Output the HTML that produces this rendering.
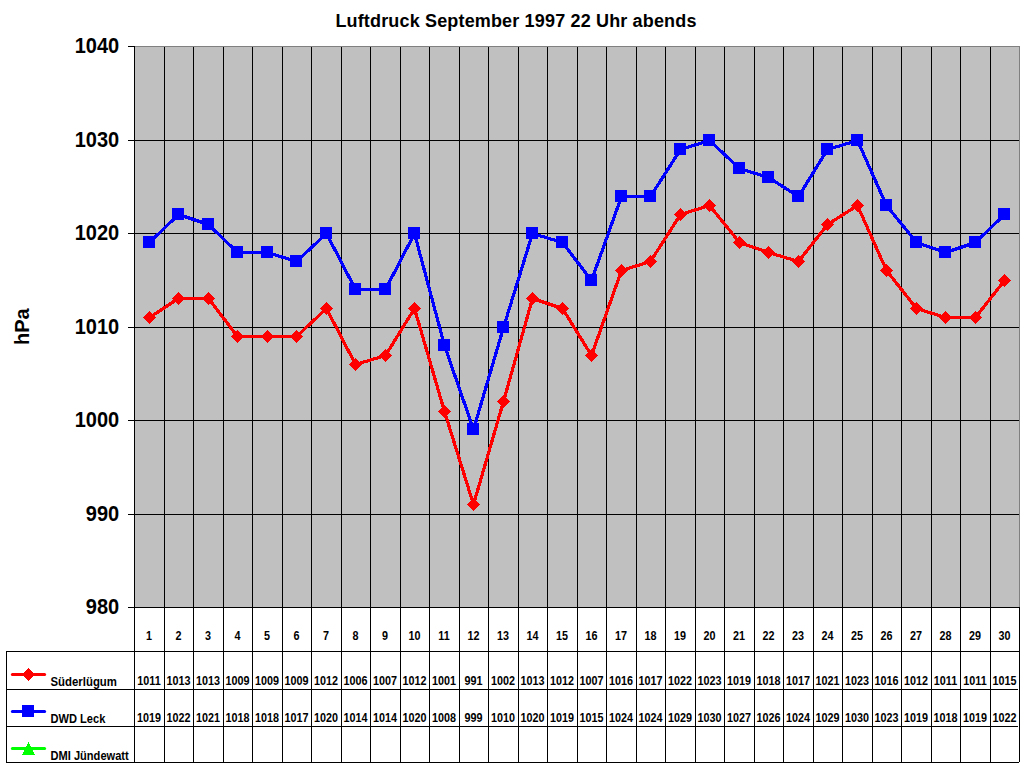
<!DOCTYPE html><html><head><meta charset="utf-8"><style>html,body{margin:0;padding:0;background:#fff;width:1024px;height:768px;overflow:hidden}svg{display:block}text{font-family:"Liberation Sans",sans-serif;font-weight:bold}</style></head><body>
<svg width="1024" height="768" viewBox="0 0 1024 768" shape-rendering="crispEdges">
<rect x="134" y="46" width="885" height="561" fill="#c0c0c0"/>
<line x1="134" y1="140.5" x2="1019" y2="140.5" stroke="#000" stroke-width="1"/>
<line x1="134" y1="233.5" x2="1019" y2="233.5" stroke="#000" stroke-width="1"/>
<line x1="134" y1="327.5" x2="1019" y2="327.5" stroke="#000" stroke-width="1"/>
<line x1="134" y1="420.5" x2="1019" y2="420.5" stroke="#000" stroke-width="1"/>
<line x1="134" y1="514.5" x2="1019" y2="514.5" stroke="#000" stroke-width="1"/>
<line x1="164.5" y1="46" x2="164.5" y2="763" stroke="#000" stroke-width="1"/>
<line x1="193.5" y1="46" x2="193.5" y2="763" stroke="#000" stroke-width="1"/>
<line x1="223.5" y1="46" x2="223.5" y2="763" stroke="#000" stroke-width="1"/>
<line x1="252.5" y1="46" x2="252.5" y2="763" stroke="#000" stroke-width="1"/>
<line x1="282.5" y1="46" x2="282.5" y2="763" stroke="#000" stroke-width="1"/>
<line x1="311.5" y1="46" x2="311.5" y2="763" stroke="#000" stroke-width="1"/>
<line x1="341.5" y1="46" x2="341.5" y2="763" stroke="#000" stroke-width="1"/>
<line x1="370.5" y1="46" x2="370.5" y2="763" stroke="#000" stroke-width="1"/>
<line x1="400.5" y1="46" x2="400.5" y2="763" stroke="#000" stroke-width="1"/>
<line x1="429.5" y1="46" x2="429.5" y2="763" stroke="#000" stroke-width="1"/>
<line x1="459.5" y1="46" x2="459.5" y2="763" stroke="#000" stroke-width="1"/>
<line x1="488.5" y1="46" x2="488.5" y2="763" stroke="#000" stroke-width="1"/>
<line x1="518.5" y1="46" x2="518.5" y2="763" stroke="#000" stroke-width="1"/>
<line x1="547.5" y1="46" x2="547.5" y2="763" stroke="#000" stroke-width="1"/>
<line x1="577.5" y1="46" x2="577.5" y2="763" stroke="#000" stroke-width="1"/>
<line x1="606.5" y1="46" x2="606.5" y2="763" stroke="#000" stroke-width="1"/>
<line x1="636.5" y1="46" x2="636.5" y2="763" stroke="#000" stroke-width="1"/>
<line x1="665.5" y1="46" x2="665.5" y2="763" stroke="#000" stroke-width="1"/>
<line x1="695.5" y1="46" x2="695.5" y2="763" stroke="#000" stroke-width="1"/>
<line x1="724.5" y1="46" x2="724.5" y2="763" stroke="#000" stroke-width="1"/>
<line x1="754.5" y1="46" x2="754.5" y2="763" stroke="#000" stroke-width="1"/>
<line x1="783.5" y1="46" x2="783.5" y2="763" stroke="#000" stroke-width="1"/>
<line x1="813.5" y1="46" x2="813.5" y2="763" stroke="#000" stroke-width="1"/>
<line x1="842.5" y1="46" x2="842.5" y2="763" stroke="#000" stroke-width="1"/>
<line x1="872.5" y1="46" x2="872.5" y2="763" stroke="#000" stroke-width="1"/>
<line x1="901.5" y1="46" x2="901.5" y2="763" stroke="#000" stroke-width="1"/>
<line x1="931.5" y1="46" x2="931.5" y2="763" stroke="#000" stroke-width="1"/>
<line x1="960.5" y1="46" x2="960.5" y2="763" stroke="#000" stroke-width="1"/>
<line x1="990.5" y1="46" x2="990.5" y2="763" stroke="#000" stroke-width="1"/>
<line x1="134" y1="46.5" x2="1020" y2="46.5" stroke="#808080"/>
<line x1="1019.5" y1="46" x2="1019.5" y2="607" stroke="#808080"/>
<line x1="134.5" y1="46" x2="134.5" y2="763" stroke="#000"/>
<line x1="128" y1="46.5" x2="134" y2="46.5" stroke="#000"/>
<text transform="translate(119.2,53) scale(0.91,1)" font-size="22" text-anchor="end">1040</text>
<line x1="128" y1="140.5" x2="134" y2="140.5" stroke="#000"/>
<text transform="translate(119.2,147) scale(0.91,1)" font-size="22" text-anchor="end">1030</text>
<line x1="128" y1="233.5" x2="134" y2="233.5" stroke="#000"/>
<text transform="translate(119.2,240) scale(0.91,1)" font-size="22" text-anchor="end">1020</text>
<line x1="128" y1="327.5" x2="134" y2="327.5" stroke="#000"/>
<text transform="translate(119.2,334) scale(0.91,1)" font-size="22" text-anchor="end">1010</text>
<line x1="128" y1="420.5" x2="134" y2="420.5" stroke="#000"/>
<text transform="translate(119.2,427) scale(0.91,1)" font-size="22" text-anchor="end">1000</text>
<line x1="128" y1="514.5" x2="134" y2="514.5" stroke="#000"/>
<text transform="translate(119.2,521) scale(0.91,1)" font-size="22" text-anchor="end">990</text>
<line x1="128" y1="607.5" x2="134" y2="607.5" stroke="#000"/>
<text transform="translate(119.2,614) scale(0.91,1)" font-size="22" text-anchor="end">980</text>
<line x1="134" y1="607.5" x2="1020" y2="607.5" stroke="#000"/>
<line x1="1019.5" y1="607" x2="1019.5" y2="762" stroke="#000"/>
<line x1="6" y1="651.5" x2="1020" y2="651.5" stroke="#000"/>
<line x1="6" y1="689.5" x2="1018" y2="689.5" stroke="#000"/>
<line x1="6" y1="726.5" x2="1018" y2="726.5" stroke="#000"/>
<line x1="6" y1="762.5" x2="1019" y2="762.5" stroke="#000"/>
<line x1="6.5" y1="651" x2="6.5" y2="763" stroke="#000"/>
<text transform="translate(149.05,640) scale(0.9,1)" font-size="12" text-anchor="middle">1</text>
<text transform="translate(178.55,640) scale(0.9,1)" font-size="12" text-anchor="middle">2</text>
<text transform="translate(208.05,640) scale(0.9,1)" font-size="12" text-anchor="middle">3</text>
<text transform="translate(237.55,640) scale(0.9,1)" font-size="12" text-anchor="middle">4</text>
<text transform="translate(267.05,640) scale(0.9,1)" font-size="12" text-anchor="middle">5</text>
<text transform="translate(296.55,640) scale(0.9,1)" font-size="12" text-anchor="middle">6</text>
<text transform="translate(326.05,640) scale(0.9,1)" font-size="12" text-anchor="middle">7</text>
<text transform="translate(355.55,640) scale(0.9,1)" font-size="12" text-anchor="middle">8</text>
<text transform="translate(385.05,640) scale(0.9,1)" font-size="12" text-anchor="middle">9</text>
<text transform="translate(414.55,640) scale(0.9,1)" font-size="12" text-anchor="middle">10</text>
<text transform="translate(444.05,640) scale(0.9,1)" font-size="12" text-anchor="middle">11</text>
<text transform="translate(473.55,640) scale(0.9,1)" font-size="12" text-anchor="middle">12</text>
<text transform="translate(503.05,640) scale(0.9,1)" font-size="12" text-anchor="middle">13</text>
<text transform="translate(532.55,640) scale(0.9,1)" font-size="12" text-anchor="middle">14</text>
<text transform="translate(562.05,640) scale(0.9,1)" font-size="12" text-anchor="middle">15</text>
<text transform="translate(591.55,640) scale(0.9,1)" font-size="12" text-anchor="middle">16</text>
<text transform="translate(621.05,640) scale(0.9,1)" font-size="12" text-anchor="middle">17</text>
<text transform="translate(650.55,640) scale(0.9,1)" font-size="12" text-anchor="middle">18</text>
<text transform="translate(680.05,640) scale(0.9,1)" font-size="12" text-anchor="middle">19</text>
<text transform="translate(709.55,640) scale(0.9,1)" font-size="12" text-anchor="middle">20</text>
<text transform="translate(739.05,640) scale(0.9,1)" font-size="12" text-anchor="middle">21</text>
<text transform="translate(768.55,640) scale(0.9,1)" font-size="12" text-anchor="middle">22</text>
<text transform="translate(798.05,640) scale(0.9,1)" font-size="12" text-anchor="middle">23</text>
<text transform="translate(827.55,640) scale(0.9,1)" font-size="12" text-anchor="middle">24</text>
<text transform="translate(857.05,640) scale(0.9,1)" font-size="12" text-anchor="middle">25</text>
<text transform="translate(886.55,640) scale(0.9,1)" font-size="12" text-anchor="middle">26</text>
<text transform="translate(916.05,640) scale(0.9,1)" font-size="12" text-anchor="middle">27</text>
<text transform="translate(945.55,640) scale(0.9,1)" font-size="12" text-anchor="middle">28</text>
<text transform="translate(975.05,640) scale(0.9,1)" font-size="12" text-anchor="middle">29</text>
<text transform="translate(1004.55,640) scale(0.9,1)" font-size="12" text-anchor="middle">30</text>
<text transform="translate(149.05,685) scale(0.9,1)" font-size="12" text-anchor="middle">1011</text>
<text transform="translate(149.05,722) scale(0.9,1)" font-size="12" text-anchor="middle">1019</text>
<text transform="translate(178.55,685) scale(0.9,1)" font-size="12" text-anchor="middle">1013</text>
<text transform="translate(178.55,722) scale(0.9,1)" font-size="12" text-anchor="middle">1022</text>
<text transform="translate(208.05,685) scale(0.9,1)" font-size="12" text-anchor="middle">1013</text>
<text transform="translate(208.05,722) scale(0.9,1)" font-size="12" text-anchor="middle">1021</text>
<text transform="translate(237.55,685) scale(0.9,1)" font-size="12" text-anchor="middle">1009</text>
<text transform="translate(237.55,722) scale(0.9,1)" font-size="12" text-anchor="middle">1018</text>
<text transform="translate(267.05,685) scale(0.9,1)" font-size="12" text-anchor="middle">1009</text>
<text transform="translate(267.05,722) scale(0.9,1)" font-size="12" text-anchor="middle">1018</text>
<text transform="translate(296.55,685) scale(0.9,1)" font-size="12" text-anchor="middle">1009</text>
<text transform="translate(296.55,722) scale(0.9,1)" font-size="12" text-anchor="middle">1017</text>
<text transform="translate(326.05,685) scale(0.9,1)" font-size="12" text-anchor="middle">1012</text>
<text transform="translate(326.05,722) scale(0.9,1)" font-size="12" text-anchor="middle">1020</text>
<text transform="translate(355.55,685) scale(0.9,1)" font-size="12" text-anchor="middle">1006</text>
<text transform="translate(355.55,722) scale(0.9,1)" font-size="12" text-anchor="middle">1014</text>
<text transform="translate(385.05,685) scale(0.9,1)" font-size="12" text-anchor="middle">1007</text>
<text transform="translate(385.05,722) scale(0.9,1)" font-size="12" text-anchor="middle">1014</text>
<text transform="translate(414.55,685) scale(0.9,1)" font-size="12" text-anchor="middle">1012</text>
<text transform="translate(414.55,722) scale(0.9,1)" font-size="12" text-anchor="middle">1020</text>
<text transform="translate(444.05,685) scale(0.9,1)" font-size="12" text-anchor="middle">1001</text>
<text transform="translate(444.05,722) scale(0.9,1)" font-size="12" text-anchor="middle">1008</text>
<text transform="translate(473.55,685) scale(0.9,1)" font-size="12" text-anchor="middle">991</text>
<text transform="translate(473.55,722) scale(0.9,1)" font-size="12" text-anchor="middle">999</text>
<text transform="translate(503.05,685) scale(0.9,1)" font-size="12" text-anchor="middle">1002</text>
<text transform="translate(503.05,722) scale(0.9,1)" font-size="12" text-anchor="middle">1010</text>
<text transform="translate(532.55,685) scale(0.9,1)" font-size="12" text-anchor="middle">1013</text>
<text transform="translate(532.55,722) scale(0.9,1)" font-size="12" text-anchor="middle">1020</text>
<text transform="translate(562.05,685) scale(0.9,1)" font-size="12" text-anchor="middle">1012</text>
<text transform="translate(562.05,722) scale(0.9,1)" font-size="12" text-anchor="middle">1019</text>
<text transform="translate(591.55,685) scale(0.9,1)" font-size="12" text-anchor="middle">1007</text>
<text transform="translate(591.55,722) scale(0.9,1)" font-size="12" text-anchor="middle">1015</text>
<text transform="translate(621.05,685) scale(0.9,1)" font-size="12" text-anchor="middle">1016</text>
<text transform="translate(621.05,722) scale(0.9,1)" font-size="12" text-anchor="middle">1024</text>
<text transform="translate(650.55,685) scale(0.9,1)" font-size="12" text-anchor="middle">1017</text>
<text transform="translate(650.55,722) scale(0.9,1)" font-size="12" text-anchor="middle">1024</text>
<text transform="translate(680.05,685) scale(0.9,1)" font-size="12" text-anchor="middle">1022</text>
<text transform="translate(680.05,722) scale(0.9,1)" font-size="12" text-anchor="middle">1029</text>
<text transform="translate(709.55,685) scale(0.9,1)" font-size="12" text-anchor="middle">1023</text>
<text transform="translate(709.55,722) scale(0.9,1)" font-size="12" text-anchor="middle">1030</text>
<text transform="translate(739.05,685) scale(0.9,1)" font-size="12" text-anchor="middle">1019</text>
<text transform="translate(739.05,722) scale(0.9,1)" font-size="12" text-anchor="middle">1027</text>
<text transform="translate(768.55,685) scale(0.9,1)" font-size="12" text-anchor="middle">1018</text>
<text transform="translate(768.55,722) scale(0.9,1)" font-size="12" text-anchor="middle">1026</text>
<text transform="translate(798.05,685) scale(0.9,1)" font-size="12" text-anchor="middle">1017</text>
<text transform="translate(798.05,722) scale(0.9,1)" font-size="12" text-anchor="middle">1024</text>
<text transform="translate(827.55,685) scale(0.9,1)" font-size="12" text-anchor="middle">1021</text>
<text transform="translate(827.55,722) scale(0.9,1)" font-size="12" text-anchor="middle">1029</text>
<text transform="translate(857.05,685) scale(0.9,1)" font-size="12" text-anchor="middle">1023</text>
<text transform="translate(857.05,722) scale(0.9,1)" font-size="12" text-anchor="middle">1030</text>
<text transform="translate(886.55,685) scale(0.9,1)" font-size="12" text-anchor="middle">1016</text>
<text transform="translate(886.55,722) scale(0.9,1)" font-size="12" text-anchor="middle">1023</text>
<text transform="translate(916.05,685) scale(0.9,1)" font-size="12" text-anchor="middle">1012</text>
<text transform="translate(916.05,722) scale(0.9,1)" font-size="12" text-anchor="middle">1019</text>
<text transform="translate(945.55,685) scale(0.9,1)" font-size="12" text-anchor="middle">1011</text>
<text transform="translate(945.55,722) scale(0.9,1)" font-size="12" text-anchor="middle">1018</text>
<text transform="translate(975.05,685) scale(0.9,1)" font-size="12" text-anchor="middle">1011</text>
<text transform="translate(975.05,722) scale(0.9,1)" font-size="12" text-anchor="middle">1019</text>
<text transform="translate(1004.55,685) scale(0.9,1)" font-size="12" text-anchor="middle">1015</text>
<text transform="translate(1004.55,722) scale(0.9,1)" font-size="12" text-anchor="middle">1022</text>
<g>
<line x1="12.4" y1="674.5" x2="44.6" y2="674.5" stroke="#f00" stroke-width="3" stroke-linecap="round" shape-rendering="auto"/>
<path d="M28.5 668 L35 674.5 L28.5 681 L22 674.5 Z" fill="#f00"/>
<line x1="12.4" y1="711.5" x2="44.6" y2="711.5" stroke="#00f" stroke-width="3" stroke-linecap="round" shape-rendering="auto"/>
<rect x="22" y="705" width="12" height="12" fill="#00f"/>
<line x1="12.4" y1="748.5" x2="44.6" y2="748.5" stroke="#0f0" stroke-width="3" stroke-linecap="round" shape-rendering="auto"/>
<path d="M28.5 742 L35 755 L22 755 Z" fill="#0f0"/>
</g>
<text transform="translate(50.5,686) scale(0.95,1)" font-size="12">Süderlügum</text>
<text transform="translate(50.5,723) scale(0.925,1)" font-size="12">DWD Leck</text>
<text transform="translate(50.5,760) scale(0.925,1)" font-size="12">DMI Jündewatt</text>
<g>
<polyline points="149.5,317.5 178.5,298.5 208.5,298.5 237.5,336.5 267.5,336.5 296.5,336.5 326.5,308.5 355.5,364.5 385.5,355.5 414.5,308.5 444.5,411.5 473.5,504.5 503.5,401.5 532.5,298.5 562.5,308.5 591.5,355.5 621.5,270.5 650.5,261.5 680.5,214.5 709.5,205.5 739.5,242.5 768.5,252.5 798.5,261.5 827.5,224.5 857.5,205.5 886.5,270.5 916.5,308.5 945.5,317.5 975.5,317.5 1004.5,280.5" fill="none" stroke="#f00" stroke-width="3.2" stroke-linejoin="round" shape-rendering="crispEdges"/>
<polyline points="149.5,242.5 178.5,214.5 208.5,224.5 237.5,252.5 267.5,252.5 296.5,261.5 326.5,233.5 355.5,289.5 385.5,289.5 414.5,233.5 444.5,345.5 473.5,429.5 503.5,327.5 532.5,233.5 562.5,242.5 591.5,280.5 621.5,196.5 650.5,196.5 680.5,149.5 709.5,140.5 739.5,168.5 768.5,177.5 798.5,196.5 827.5,149.5 857.5,140.5 886.5,205.5 916.5,242.5 945.5,252.5 975.5,242.5 1004.5,214.5" fill="none" stroke="#00f" stroke-width="3.2" stroke-linejoin="round" shape-rendering="crispEdges"/>
<path d="M149.50 311.00 L156.00 317.50 L149.50 324.00 L143.00 317.50 Z" fill="#f00"/>
<path d="M178.50 292.00 L185.00 298.50 L178.50 305.00 L172.00 298.50 Z" fill="#f00"/>
<path d="M208.50 292.00 L215.00 298.50 L208.50 305.00 L202.00 298.50 Z" fill="#f00"/>
<path d="M237.50 330.00 L244.00 336.50 L237.50 343.00 L231.00 336.50 Z" fill="#f00"/>
<path d="M267.50 330.00 L274.00 336.50 L267.50 343.00 L261.00 336.50 Z" fill="#f00"/>
<path d="M296.50 330.00 L303.00 336.50 L296.50 343.00 L290.00 336.50 Z" fill="#f00"/>
<path d="M326.50 302.00 L333.00 308.50 L326.50 315.00 L320.00 308.50 Z" fill="#f00"/>
<path d="M355.50 358.00 L362.00 364.50 L355.50 371.00 L349.00 364.50 Z" fill="#f00"/>
<path d="M385.50 349.00 L392.00 355.50 L385.50 362.00 L379.00 355.50 Z" fill="#f00"/>
<path d="M414.50 302.00 L421.00 308.50 L414.50 315.00 L408.00 308.50 Z" fill="#f00"/>
<path d="M444.50 405.00 L451.00 411.50 L444.50 418.00 L438.00 411.50 Z" fill="#f00"/>
<path d="M473.50 498.00 L480.00 504.50 L473.50 511.00 L467.00 504.50 Z" fill="#f00"/>
<path d="M503.50 395.00 L510.00 401.50 L503.50 408.00 L497.00 401.50 Z" fill="#f00"/>
<path d="M532.50 292.00 L539.00 298.50 L532.50 305.00 L526.00 298.50 Z" fill="#f00"/>
<path d="M562.50 302.00 L569.00 308.50 L562.50 315.00 L556.00 308.50 Z" fill="#f00"/>
<path d="M591.50 349.00 L598.00 355.50 L591.50 362.00 L585.00 355.50 Z" fill="#f00"/>
<path d="M621.50 264.00 L628.00 270.50 L621.50 277.00 L615.00 270.50 Z" fill="#f00"/>
<path d="M650.50 255.00 L657.00 261.50 L650.50 268.00 L644.00 261.50 Z" fill="#f00"/>
<path d="M680.50 208.00 L687.00 214.50 L680.50 221.00 L674.00 214.50 Z" fill="#f00"/>
<path d="M709.50 199.00 L716.00 205.50 L709.50 212.00 L703.00 205.50 Z" fill="#f00"/>
<path d="M739.50 236.00 L746.00 242.50 L739.50 249.00 L733.00 242.50 Z" fill="#f00"/>
<path d="M768.50 246.00 L775.00 252.50 L768.50 259.00 L762.00 252.50 Z" fill="#f00"/>
<path d="M798.50 255.00 L805.00 261.50 L798.50 268.00 L792.00 261.50 Z" fill="#f00"/>
<path d="M827.50 218.00 L834.00 224.50 L827.50 231.00 L821.00 224.50 Z" fill="#f00"/>
<path d="M857.50 199.00 L864.00 205.50 L857.50 212.00 L851.00 205.50 Z" fill="#f00"/>
<path d="M886.50 264.00 L893.00 270.50 L886.50 277.00 L880.00 270.50 Z" fill="#f00"/>
<path d="M916.50 302.00 L923.00 308.50 L916.50 315.00 L910.00 308.50 Z" fill="#f00"/>
<path d="M945.50 311.00 L952.00 317.50 L945.50 324.00 L939.00 317.50 Z" fill="#f00"/>
<path d="M975.50 311.00 L982.00 317.50 L975.50 324.00 L969.00 317.50 Z" fill="#f00"/>
<path d="M1004.50 274.00 L1011.00 280.50 L1004.50 287.00 L998.00 280.50 Z" fill="#f00"/>
<rect x="143" y="236" width="12" height="12" fill="#00f"/>
<rect x="172" y="208" width="12" height="12" fill="#00f"/>
<rect x="202" y="218" width="12" height="12" fill="#00f"/>
<rect x="231" y="246" width="12" height="12" fill="#00f"/>
<rect x="261" y="246" width="12" height="12" fill="#00f"/>
<rect x="290" y="255" width="12" height="12" fill="#00f"/>
<rect x="320" y="227" width="12" height="12" fill="#00f"/>
<rect x="349" y="283" width="12" height="12" fill="#00f"/>
<rect x="379" y="283" width="12" height="12" fill="#00f"/>
<rect x="408" y="227" width="12" height="12" fill="#00f"/>
<rect x="438" y="339" width="12" height="12" fill="#00f"/>
<rect x="467" y="423" width="12" height="12" fill="#00f"/>
<rect x="497" y="321" width="12" height="12" fill="#00f"/>
<rect x="526" y="227" width="12" height="12" fill="#00f"/>
<rect x="556" y="236" width="12" height="12" fill="#00f"/>
<rect x="585" y="274" width="12" height="12" fill="#00f"/>
<rect x="615" y="190" width="12" height="12" fill="#00f"/>
<rect x="644" y="190" width="12" height="12" fill="#00f"/>
<rect x="674" y="143" width="12" height="12" fill="#00f"/>
<rect x="703" y="134" width="12" height="12" fill="#00f"/>
<rect x="733" y="162" width="12" height="12" fill="#00f"/>
<rect x="762" y="171" width="12" height="12" fill="#00f"/>
<rect x="792" y="190" width="12" height="12" fill="#00f"/>
<rect x="821" y="143" width="12" height="12" fill="#00f"/>
<rect x="851" y="134" width="12" height="12" fill="#00f"/>
<rect x="880" y="199" width="12" height="12" fill="#00f"/>
<rect x="910" y="236" width="12" height="12" fill="#00f"/>
<rect x="939" y="246" width="12" height="12" fill="#00f"/>
<rect x="969" y="236" width="12" height="12" fill="#00f"/>
<rect x="998" y="208" width="12" height="12" fill="#00f"/>
</g>
<text x="516" y="27" font-size="18" letter-spacing="0.16" text-anchor="middle">Luftdruck September 1997 22 Uhr abends</text>
<text transform="translate(28.8,326.6) rotate(-90) scale(0.95,1)" font-size="21" text-anchor="middle">hPa</text>
</svg></body></html>
